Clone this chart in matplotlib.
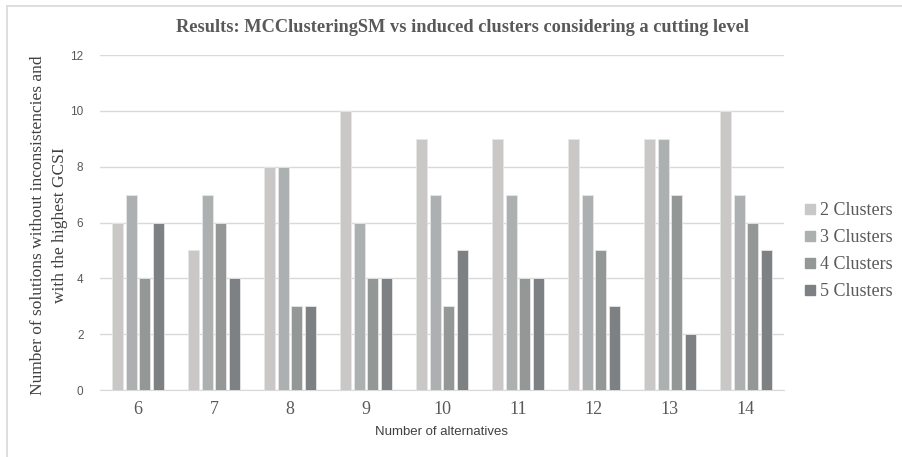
import numpy as np
import matplotlib.pyplot as plt
from matplotlib.lines import Line2D

alternatives = ['6', '7', '8', '9', '10', '11', '12', '13', '14']
series_names = ['2 Clusters', '3 Clusters', '4 Clusters', '5 Clusters']
clusters_2 = [6, 5, 8, 10, 9, 9, 9, 9, 10]
clusters_3 = [7, 7, 8, 6, 7, 7, 7, 9, 7]
clusters_4 = [4, 6, 3, 4, 3, 4, 5, 7, 6]
clusters_5 = [6, 4, 3, 4, 5, 4, 3, 2, 5]
bar_colors = ['#c9c8c6', '#adb0b0', '#939796', '#7e8183']
ylabel_lines = ['Number of solutions without inconsistencies and',
                'with the highest GCSI']

serif = 'Liberation Serif'
sans = 'Liberation Sans'

fig = plt.figure(figsize=(9.02, 4.57), dpi=100)
ax = fig.add_axes([0.111, 0.1466, 0.758, 0.733])

x = np.arange(len(alternatives))
slot = 0.18
width = 0.145
all_series = [clusters_2, clusters_3, clusters_4, clusters_5]
for i, (vals, name, col) in enumerate(zip(all_series, series_names, bar_colors)):
    ax.bar(x + (i - 1.5) * slot, vals, width, color=col, label=name,
           edgecolor='#e6e6e6', linewidth=0.6, zorder=3)

ax.set_xlim(-0.5, len(alternatives) - 0.5)
ax.set_ylim(0, 12)
ax.set_yticks(range(0, 13, 2))
ax.set_xticks(x)
ax.set_xticklabels(alternatives, fontfamily=serif, fontsize=13, color='#595959')
for lbl in ax.get_yticklabels():
    lbl.set_fontfamily(sans)
    lbl.set_fontsize(8.5)
    lbl.set_color('#595959')
ax.tick_params(axis='both', length=0)
ax.tick_params(axis='y', pad=12)
ax.tick_params(axis='x', pad=8)
ax.grid(axis='y', color='#d9d9d9', linewidth=1, zorder=0)
for side in ['top', 'right', 'left']:
    ax.spines[side].set_visible(False)
ax.spines['bottom'].set_color('#d9d9d9')

ax.set_xlabel('Number of alternatives', fontfamily=sans, fontsize=9.5,
              color='#404040', labelpad=6)
# y title: one text per line so each line is centred on its own
for xpos, line in zip([0.042, 0.0665], ylabel_lines):
    fig.text(xpos, 0.507, line, rotation=90, ha='center', va='center',
             fontfamily=serif, fontsize=12.5, color='#404040')
fig.text(0.513, 0.94, 'Results: MCClusteringSM vs induced clusters considering a cutting level',
         ha='center', va='center', fontfamily=serif, fontweight='bold',
         fontsize=13.2, color='#595959')

handles = [Line2D([], [], marker='s', linestyle='', markersize=7,
                  markerfacecolor=c, markeredgecolor=c) for c in bar_colors]
leg = fig.legend(handles, series_names, loc='center left',
                 bbox_to_anchor=(0.87, 0.45), frameon=False,
                 prop={'family': serif, 'size': 13}, handletextpad=0.05,
                 labelspacing=0.55, handlelength=1.0)
for t in leg.get_texts():
    t.set_color('#595959')

# thin frame along the top and left edge
fig.add_artist(Line2D([0.008, 1.0], [0.987, 0.987], color='#d9d9d9', linewidth=1.2))
fig.add_artist(Line2D([0.008, 0.008], [0.0, 0.987], color='#d9d9d9', linewidth=1.2))

fig.savefig('out.png', dpi=100)
